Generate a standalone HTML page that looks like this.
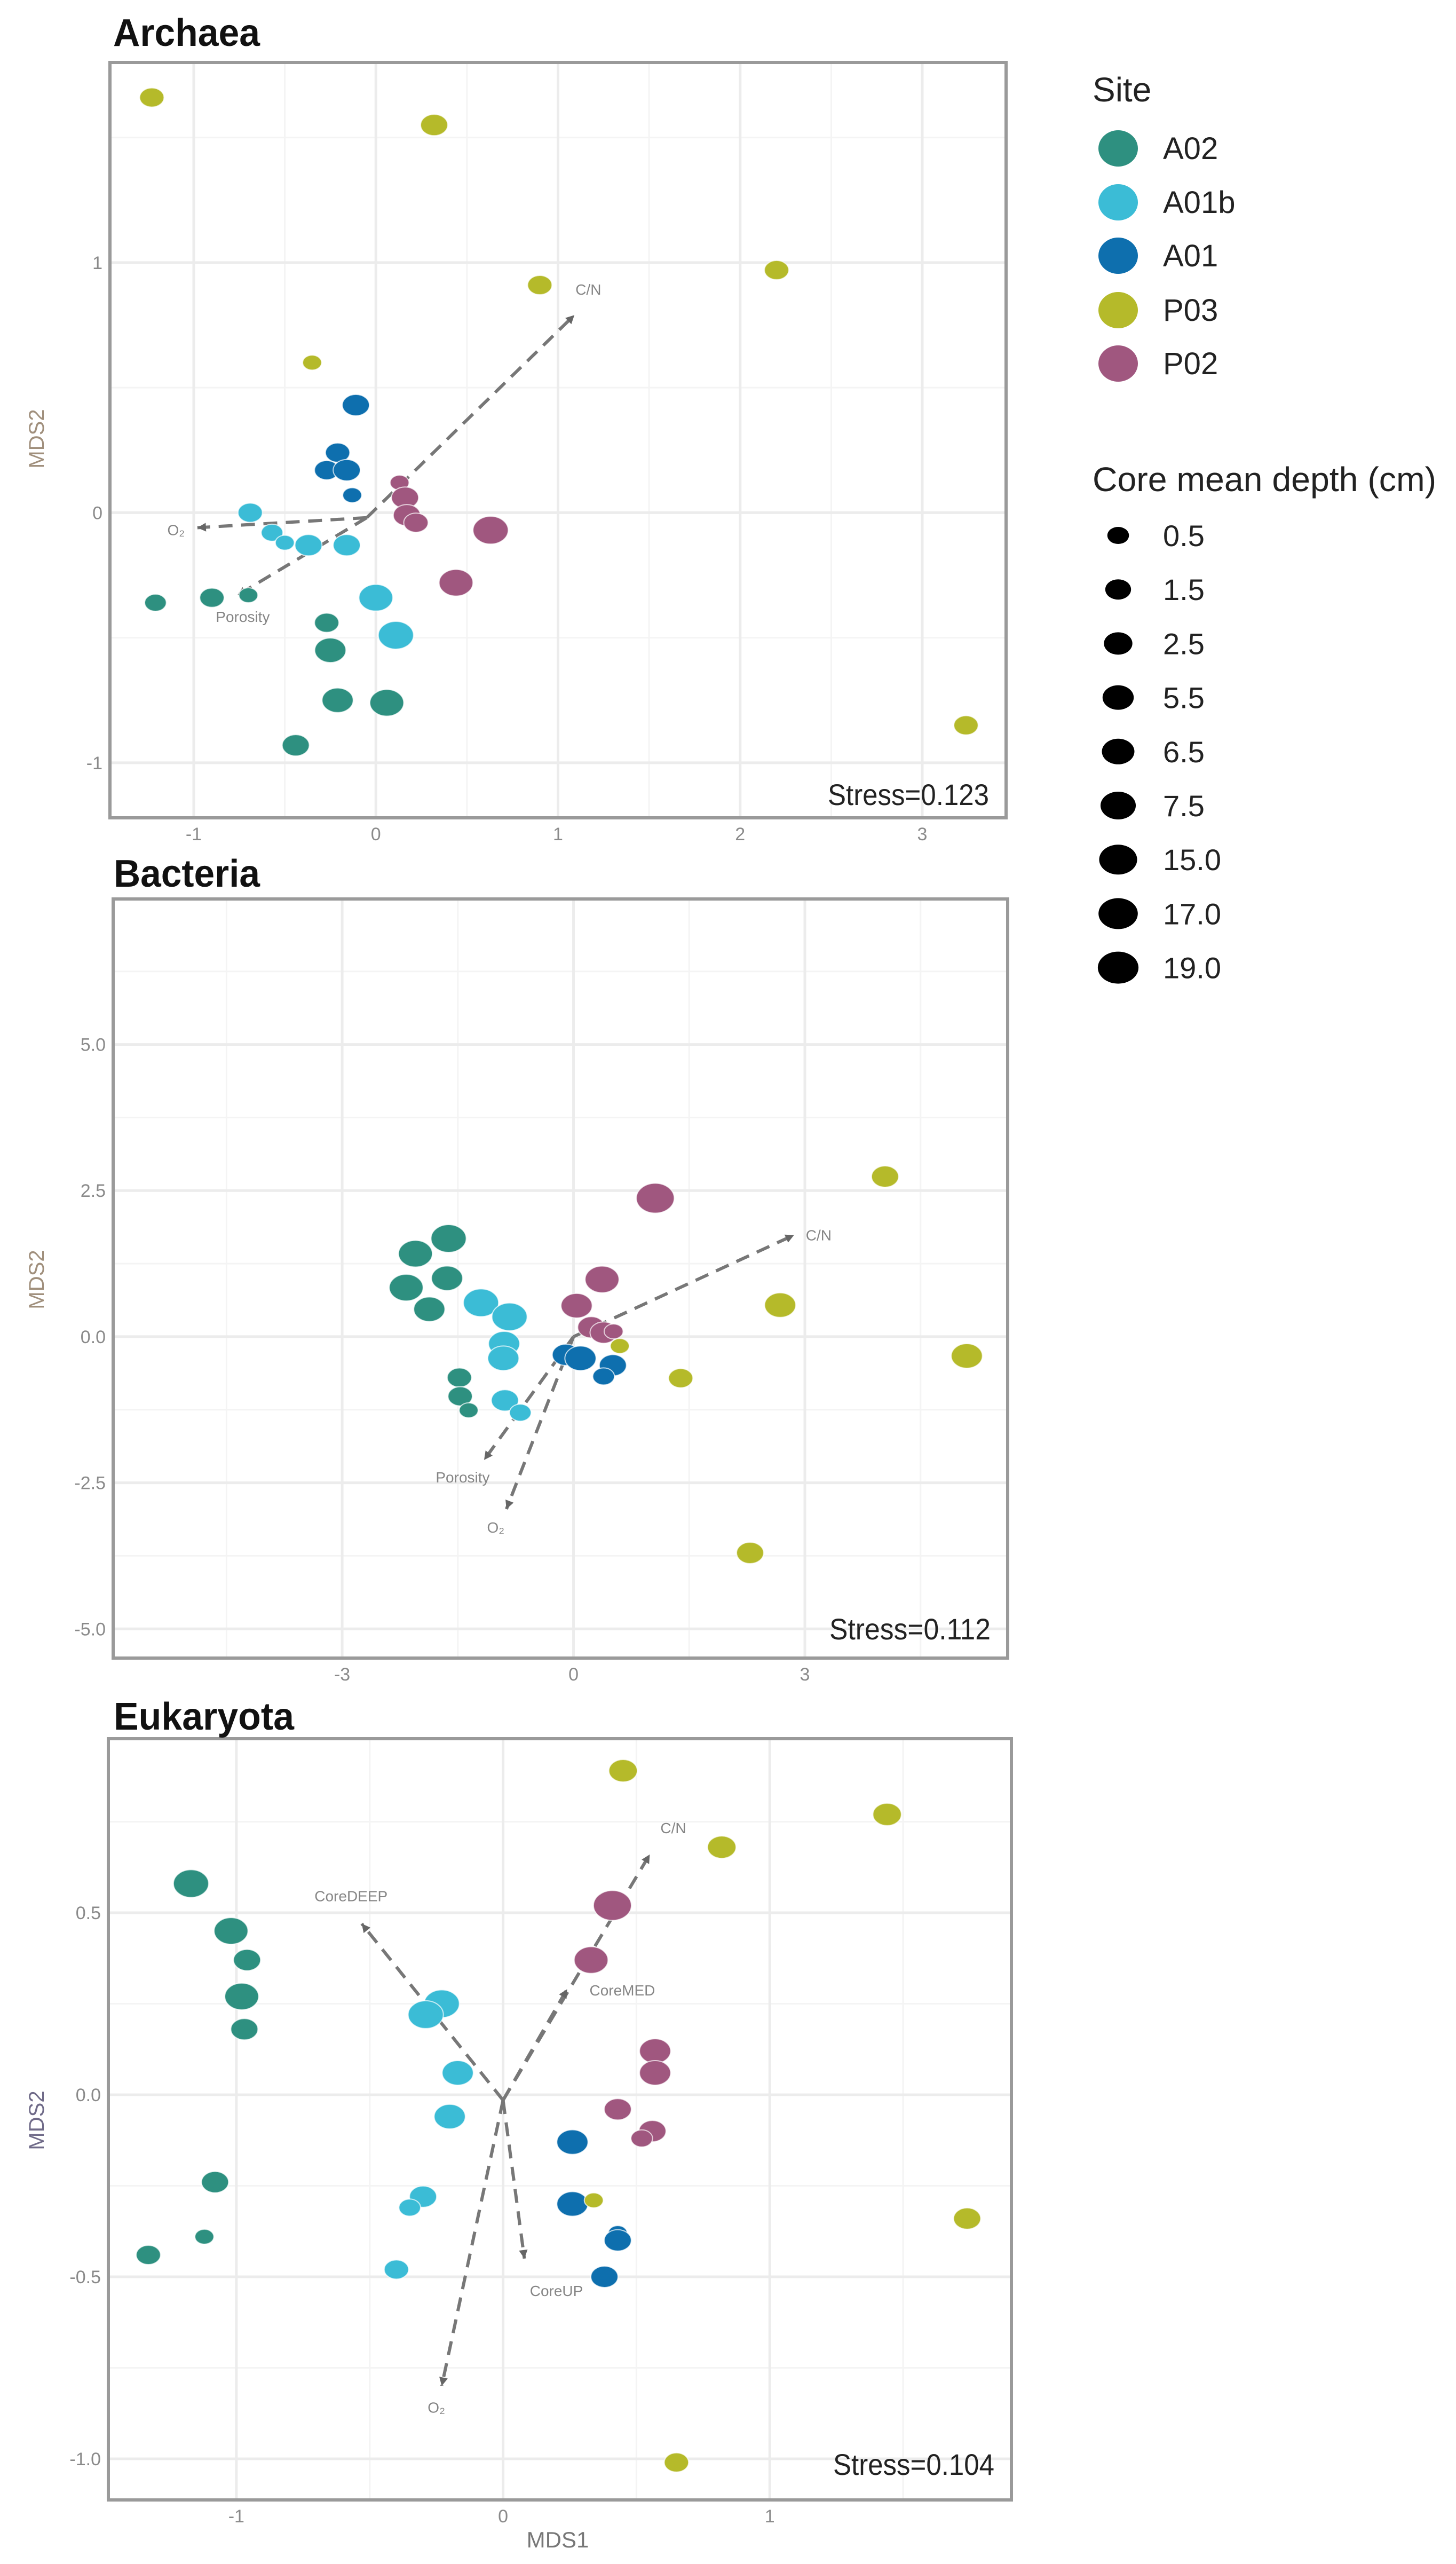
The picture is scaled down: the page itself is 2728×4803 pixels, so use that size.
<!DOCTYPE html>
<html><head><meta charset="utf-8">
<style>
html,body{margin:0;padding:0;background:#fff;}
svg{display:block;}
text{font-family:"Liberation Sans",sans-serif;}
</style></head>
<body>
<svg id="fig" width="2728" height="4803" viewBox="0 0 2728 4803" xmlns="http://www.w3.org/2000/svg">
<g id="legend"></g>
</svg>
<script>
// ---------- DATA ----------
const siteNames = ["A02","A01b","A01","P03","P02"];
const siteColors = ["#2e9080","#3bbcd6","#0e6fae","#b5ba2a","#a0577f"];
const depthLevels = [0.5,1.5,2.5,5.5,6.5,7.5,15.0,17.0,19.0];

// Archaea
const arcX = [-1.23,0.32,0.90,2.20,-0.35,3.24, -0.11,-0.21,-0.27,-0.16,-0.13, 0.13,0.16,0.17,0.22,0.63,0.44, -0.69,-0.57,-0.50,-0.37,-0.16,0.00,0.11, -1.21,-0.90,-0.70,-0.27,-0.25,-0.21,0.06,-0.44];
const arcY = [1.66,1.55,0.91,0.97,0.60,-0.85, 0.43,0.24,0.17,0.17,0.07, 0.12,0.06,-0.01,-0.04,-0.07,-0.28, 0.00,-0.08,-0.12,-0.13,-0.13,-0.34,-0.49, -0.36,-0.34,-0.33,-0.44,-0.55,-0.75,-0.76,-0.93];
const arcSite = [3,3,3,3,3,3, 2,2,2,2,2, 4,4,4,4,4,4, 1,1,1,1,1,1,1, 0,0,0,0,0,0,0,0];
const arcDepth = [2.5,5.5,2.5,2.5,0.5,2.5, 5.5,2.5,2.5,5.5,0.5, 0.5,5.5,5.5,2.5,17.0,15.0, 2.5,1.5,0.5,5.5,5.5,15.0,17.0, 1.5,2.5,0.5,2.5,7.5,7.5,15.0,5.5];
const arcVecNames = ["C/N","O\u2082","Porosity"];
const arcVecX = [1.09,-0.98,-0.76];
const arcVecY = [0.79,-0.06,-0.33];

// Bacteria
const bacX = [4.04,2.68,5.10,1.39,0.60,2.29, 1.06,0.37,0.04,0.23,0.39,0.52, -0.10,0.09,0.51,0.39, -1.20,-0.83,-0.90,-0.91,-0.89,-0.69, -1.62,-2.05,-2.17,-1.64,-1.87,-1.48,-1.47,-1.36];
const bacY = [2.74,0.54,-0.33,-0.71,-0.16,-3.70, 2.37,0.98,0.53,0.16,0.07,0.09, -0.31,-0.37,-0.49,-0.68, 0.58,0.34,-0.12,-0.37,-1.09,-1.30, 1.68,1.42,0.84,1.00,0.47,-0.70,-1.02,-1.26];
const bacSite = [3,3,3,3,3,3, 4,4,4,4,4,4, 2,2,2,2, 1,1,1,1,1,1, 0,0,0,0,0,0,0,0];
const bacDepth = [5.5,7.5,7.5,2.5,0.5,5.5, 19.0,15.0,7.5,5.5,5.5,0.5, 5.5,7.5,5.5,1.5, 17.0,17.0,7.5,7.5,5.5,1.5, 17.0,15.0,15.0,7.5,7.5,2.5,2.5,0.5];
const bacVecNames = ["C/N","Porosity","O\u2082"];
const bacVecX = [2.86,-1.16,-0.87];
const bacVecY = [1.74,-2.11,-2.95];

// Eukaryota
const eukX = [-1.17,-1.02,-0.96,-0.98,-0.97,-1.08,-1.12,-1.33, -0.23,-0.29,-0.17,-0.20,-0.30,-0.35,-0.40, 0.26,0.26,0.43,0.43,0.38, 0.45,1.44,0.82,0.34,1.74,0.65, 0.41,0.33,0.57,0.57,0.43,0.56,0.52];
const eukY = [0.58,0.45,0.37,0.27,0.18,-0.24,-0.39,-0.44, 0.25,0.22,0.06,-0.06,-0.28,-0.31,-0.48, -0.13,-0.30,-0.38,-0.40,-0.50, 0.89,0.77,0.68,-0.29,-0.34,-1.01, 0.52,0.37,0.12,0.06,-0.04,-0.10,-0.12];
const eukSite = [0,0,0,0,0,0,0,0, 1,1,1,1,1,1,1, 2,2,2,2,2, 3,3,3,3,3,3, 4,4,4,4,4,4,4];
const eukDepth = [17.0,15.0,5.5,15.0,5.5,5.5,0.5,2.5, 17.0,17.0,7.5,7.5,5.5,1.5,2.5, 7.5,7.5,0.5,5.5,5.5, 6.5,6.5,6.5,0.5,5.5,2.5, 19.0,15.0,7.5,7.5,5.5,5.5,1.5];
const eukVecNames = ["C/N","CoreDEEP","CoreMED","CoreUP","O\u2082"];
const eukVecX = [0.55,-0.53,0.24,0.08,-0.23];
const eukVecY = [0.66,0.47,0.29,-0.45,-0.80];

const arcXTicks = [-1,0,1,2,3];
const arcYTicks = [-1,0,1];
const bacXTicks = [-3,0,3];
const bacYTicks = [-5.0,-2.5,0.0,2.5,5.0];
const eukXTicks = [-1,0,1];
const eukYTicks = [-1.0,-0.5,0.0,0.5];

// ---------- RENDER ----------
const NS = "http://www.w3.org/2000/svg";
const svg = document.getElementById("fig");
function mk(tag, attrs, parent){
  const e = document.createElementNS(NS, tag);
  for (const k in attrs) e.setAttribute(k, attrs[k]);
  (parent||svg).appendChild(e);
  return e;
}
const ryByDepth = [14,16,18,20,21,23,25,26,28];
function ry(d){ const i = depthLevels.indexOf(d); return ryByDepth[i<0?3:i]; }

function panel(cfg){
  const g = mk("g",{});
  
  
  const L=cfg.box[0], T=cfg.box[1], R=cfg.box[2], B=cfg.box[3];
  const sx = v => L + (v - cfg.xr[0])/(cfg.xr[1]-cfg.xr[0])*(R-L);
  const sy = v => B - (v - cfg.yr[0])/(cfg.yr[1]-cfg.yr[0])*(B-T);
  cfg.xMinor.forEach(v=>{ const x=sx(v); mk("line",{x1:x,x2:x,y1:T,y2:B,stroke:"#f4f4f4","stroke-width":3},g); });
  cfg.yMinor.forEach(v=>{ const y=sy(v); mk("line",{x1:L,x2:R,y1:y,y2:y,stroke:"#f4f4f4","stroke-width":3},g); });
  cfg.xTicks.forEach(v=>{
    const x=sx(v);
    const gl = mk("line",{x1:x,x2:x,y1:T,y2:B,stroke:"#ececec","stroke-width":5},g);
    
    
    const t = mk("text",{x:x,y:B+42,"text-anchor":"middle","font-size":34,fill:"#8a8a8a"},g);
    t.textContent = cfg.xFmt(v);
    
    
  });
  cfg.yTicks.forEach(v=>{
    const y=sy(v);
    const gl = mk("line",{x1:L,x2:R,y1:y,y2:y,stroke:"#ececec","stroke-width":5},g);
    
    
    const t = mk("text",{x:L-14,y:y+12,"text-anchor":"end","font-size":34,fill:"#8a8a8a"},g);
    t.textContent = cfg.yFmt(v);
    
    
  });
  const ox = sx(cfg.origin[0]), oy = sy(cfg.origin[1]);
  cfg.vx.forEach((v,i)=>{
    const x2=sx(v), y2=sy(cfg.vy[i]);
    const ln = mk("line",{x1:ox,y1:oy,x2:x2,y2:y2,stroke:"#777","stroke-width":6,"stroke-dasharray":"26 16"},g);
    
    
    const ang = Math.atan2(y2-oy, x2-ox);
    const a1 = ang+Math.PI*0.85, a2 = ang-Math.PI*0.85;
    const hd = mk("polygon",{points:`${x2},${y2} ${x2+18*Math.cos(a1)},${y2+18*Math.sin(a1)} ${x2+18*Math.cos(a2)},${y2+18*Math.sin(a2)}`,fill:"#666"},g);
    
    
    const off = cfg.lblOff[i];
    const t = mk("text",{x:x2+off[0],y:y2+off[1],"text-anchor":off[2],"font-size":28,fill:"#858585"},g);
    t.textContent = cfg.vn[i];
    
    
  });
  cfg.px.forEach((v,i)=>{
    const r = ry(cfg.pd[i]);
    const e = mk("ellipse",{cx:sx(v),cy:sy(cfg.py[i]),rx:r*1.27,ry:r,fill:siteColors[cfg.ps[i]],stroke:"#ffffff","stroke-width":2,"stroke-opacity":0.7},g);
    
    
  });
  const bx = mk("rect",{x:L,y:T,width:R-L,height:B-T,fill:"none",stroke:"#9a9a9a","stroke-width":6},g);
  
  
  const tt = mk("text",{x:cfg.title[1],y:cfg.title[2],"font-size":72,"font-weight":"bold",fill:"#111",textLength:cfg.title[3],lengthAdjust:"spacingAndGlyphs"},g);
  tt.textContent = cfg.title[0];
  
  
  const st = mk("text",{x:R-32,y:cfg.stressY,"text-anchor":"end","font-size":56,fill:"#222",textLength:302,lengthAdjust:"spacingAndGlyphs"},g);
  st.textContent = cfg.stress;
  
  
  const yl = mk("text",{x:0,y:0,"text-anchor":"middle","font-size":40,fill:cfg.ylabColor,transform:`translate(${cfg.ylab[0]},${cfg.ylab[1]}) rotate(-90)`},g);
  yl.textContent = "MDS2";
  
  
  if (cfg.xlab){
    const xl = mk("text",{x:cfg.xlab[0],y:cfg.xlab[1],"text-anchor":"middle","font-size":42,fill:"#777"},g);
    xl.textContent = "MDS1";
    
    
  }
}

const f0 = v => String(v);
const f1 = v => v.toFixed(1);

panel({name:"archaea", box:[206,117,1885,1532], xr:[-1.46,3.46], yr:[-1.22,1.80],
  xTicks:arcXTicks, yTicks:arcYTicks, xMinor:[-0.5,0.5,1.5,2.5], yMinor:[-0.5,0.5,1.5],
  xFmt:f0, yFmt:f0, px:arcX, py:arcY, ps:arcSite, pd:arcDepth,
  vx:arcVecX, vy:arcVecY, vn:arcVecNames, origin:[-0.05,-0.02],
  lblOff:[[2,-38,"start"],[-40,14,"middle"],[10,50,"middle"]],
  title:["Archaea",212,86,275], stress:"Stress=0.123", stressY:1508,
  ylab:[82,822], ylabColor:"#a08f7c"});

panel({name:"bacteria", box:[212,1684,1888,3106], xr:[-5.97,5.63], yr:[-5.5,7.49],
  xTicks:bacXTicks, yTicks:bacYTicks, xMinor:[-4.5,-1.5,1.5,4.5], yMinor:[-3.75,-1.25,1.25,3.75,6.25],
  xFmt:f0, yFmt:f1, px:bacX, py:bacY, ps:bacSite, pd:bacDepth,
  vx:bacVecX, vy:bacVecY, vn:bacVecNames, origin:[0,0],
  lblOff:[[22,10,"start"],[-40,42,"middle"],[-20,44,"middle"]],
  title:["Bacteria",213,1661,274], stress:"Stress=0.112", stressY:3071,
  ylab:[82,2397], ylabColor:"#a08f7c"});

panel({name:"eukaryota", box:[203,3257,1895,4683], xr:[-1.48,1.906], yr:[-1.113,0.978],
  xTicks:eukXTicks, yTicks:eukYTicks, xMinor:[-0.5,0.5,1.5], yMinor:[-0.75,-0.25,0.25,0.75],
  xFmt:f0, yFmt:f1, px:eukX, py:eukY, ps:eukSite, pd:eukDepth,
  vx:eukVecX, vy:eukVecY, vn:eukVecNames, origin:[0,-0.015],
  lblOff:[[20,-40,"start"],[-20,-42,"middle"],[42,12,"start"],[60,70,"middle"],[-10,50,"middle"]],
  title:["Eukaryota",213,3240,338], stress:"Stress=0.104", stressY:4636,
  ylab:[82,3972], ylabColor:"#6f6a88", xlab:[1045,4772]});

// ---------- LEGEND ----------
const lg = document.getElementById("legend");
const sT = mk("text",{x:2047,y:190,"font-size":64,fill:"#222"},lg);
sT.textContent = "Site";


const siteYs = [278,379,479,581,681];
siteNames.forEach((n,i)=>{
  const e = mk("ellipse",{cx:2095,cy:siteYs[i],rx:37,ry:34,fill:siteColors[i]},lg);
  
  
  const t = mk("text",{x:2179,y:siteYs[i]+20,"font-size":58,fill:"#222"},lg);
  t.textContent = n;
  
  
});
const dT = mk("text",{x:2047,y:920,"font-size":64,fill:"#222",textLength:644,lengthAdjust:"spacingAndGlyphs"},lg);
dT.textContent = "Core mean depth (cm)";


const legR = [16,19,21,23,24,26,28,29,30];
depthLevels.forEach((d,i)=>{
  const y = 1003 + i*101.2;
  const e = mk("ellipse",{cx:2095,cy:y,rx:legR[i]*1.27,ry:legR[i],fill:"#000"},lg);
  
  
  const t = mk("text",{x:2179,y:y+20,"font-size":56,fill:"#222"},lg);
  t.textContent = d.toFixed(1);
  
  
});
</script>
</body></html>
